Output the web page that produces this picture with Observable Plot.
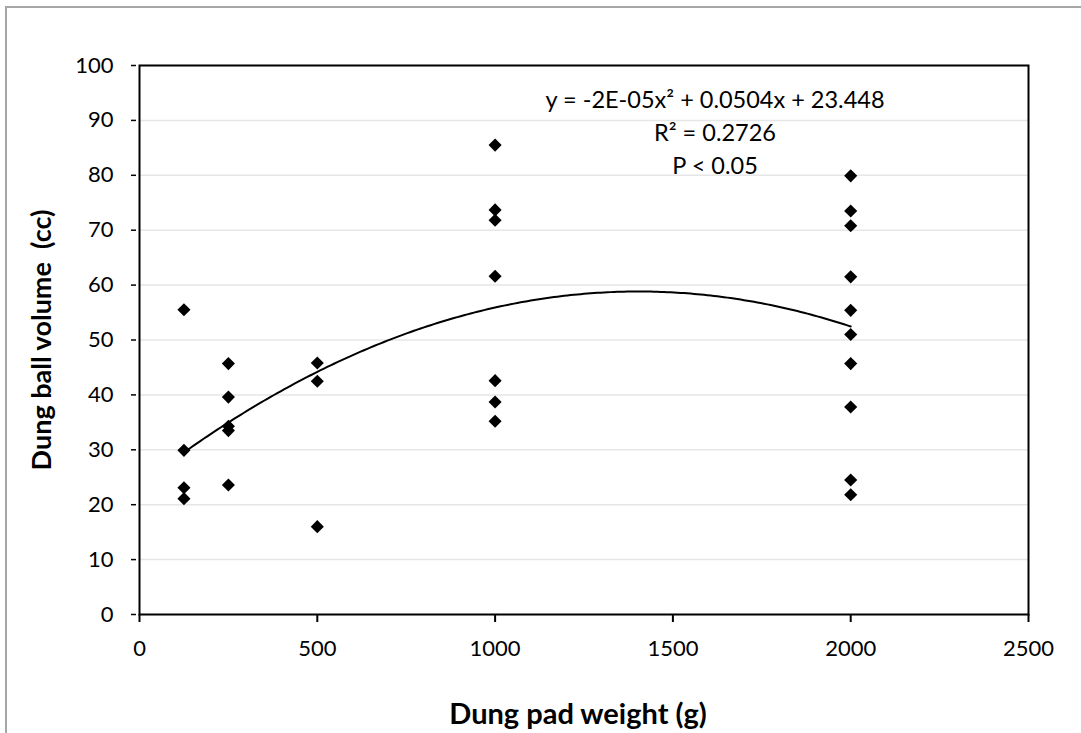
<!DOCTYPE html>
<html>
<head>
<meta charset="utf-8">
<script src="https://cdn.jsdelivr.net/npm/d3@7"></script>
<script src="https://cdn.jsdelivr.net/npm/@observablehq/plot@0.6"></script>
<style>
  html, body { margin: 0; padding: 0; overflow: hidden; background: #fff; }
  #box { position: absolute; left: 5px; top: 6px; width: 1100px; height: 760px; border: 2px solid #a6a6a6; box-sizing: border-box; }
  #chart { position: absolute; left: 0; top: 0; }
</style>
</head>
<body>
<div id="box"></div>
<div id="chart"></div>
<script>
// Data
const padWeights = [125, 250, 500, 1000, 2000];
const ballVolumes = [
  [55.5, 29.9, 23.1, 21.1],
  [45.7, 39.6, 34.3, 33.5, 23.6],
  [45.8, 42.5, 16.0],
  [85.5, 73.7, 71.8, 61.6, 42.6, 38.7, 35.2],
  [79.9, 73.5, 70.8, 61.5, 55.4, 51.0, 45.7, 37.8, 24.5, 21.8]
];
const xTicks = [0, 500, 1000, 1500, 2000, 2500];
const yTicks = [0, 10, 20, 30, 40, 50, 60, 70, 80, 90, 100];
const equationText = "y = -2E-05x² + 0.0504x + 23.448\nR² = 0.2726\nP < 0.05";
const xLabel = "Dung pad weight (g)";
const yLabel = "Dung ball volume \u00a0(cc)";

const points = padWeights.flatMap((w, i) => ballVolumes[i].map(v => ({weight: w, volume: v})));

// Quadratic least-squares fit (polynomial trendline, order 2)
function quadFit(pts) {
  const s = 1000; // scale x for numeric stability
  const S = [0,0,0,0,0], T = [0,0,0];
  for (const p of pts) {
    const x = p.weight / s;
    for (let k = 0; k < 5; k++) S[k] += x ** k;
    for (let k = 0; k < 3; k++) T[k] += (x ** k) * p.volume;
  }
  const A = [[S[0],S[1],S[2],T[0]],[S[1],S[2],S[3],T[1]],[S[2],S[3],S[4],T[2]]];
  for (let i = 0; i < 3; i++) {
    for (let j = i + 1; j < 3; j++) {
      const f = A[j][i] / A[i][i];
      for (let k = i; k < 4; k++) A[j][k] -= f * A[i][k];
    }
  }
  const c = [0,0,0];
  for (let i = 2; i >= 0; i--) {
    let sum = A[i][3];
    for (let k = i + 1; k < 3; k++) sum -= A[i][k] * c[k];
    c[i] = sum / A[i][i];
  }
  return x => c[0] + c[1] * (x / s) + c[2] * (x / s) ** 2;
}
const fit = quadFit(points);
const xMin = d3.min(padWeights), xMax = d3.max(padWeights);
const curve = d3.range(0, 201).map(i => {
  const x = xMin + (xMax - xMin) * i / 200;
  return {weight: x, volume: fit(x)};
});

const chart = Plot.plot({
  width: 1081,
  height: 733,
  marginLeft: 139,
  marginRight: 53,
  marginTop: 65,
  marginBottom: 119,
  style: {fontFamily: "Lato, 'Open Sans', sans-serif", fontSize: "22px", color: "#000", background: "transparent"},
  x: {domain: [0, 2500]},
  y: {domain: [0, 100]},
  marks: [
    Plot.gridY(yTicks, {stroke: "#e6e6e6", strokeOpacity: 1, strokeWidth: 1.5}),
    Plot.frame({stroke: "#000", strokeWidth: 2}),
    Plot.axisX(xTicks, {tickSize: 8, tickPadding: 18, tickFormat: "d", label: null, fontSize: 22, strokeWidth: 2}),
    Plot.axisY(yTicks, {tickSize: 5, dx: -3, tickPadding: 18, tickFormat: "d", label: null, fontSize: 22, strokeWidth: 1.5}),
    Plot.line(curve, {x: "weight", y: "volume", stroke: "#000", strokeWidth: 2}),
    Plot.dot(points, {x: "weight", y: "volume", symbol: "diamond2", r: 5.9, fill: "#000", stroke: null}),
    Plot.text([equationText], {frameAnchor: "top", dx: 131, dy: 65, lineAnchor: "middle", lineHeight: 1.4, fontSize: 23.5, fill: "#000"}),
    Plot.text([xLabel], {frameAnchor: "bottom", dx: -6, dy: 100, textAnchor: "middle", lineAnchor: "middle", fontSize: 29, fontWeight: "bold", fill: "#000"}),
    Plot.text([yLabel], {frameAnchor: "left", dx: -97, rotate: -90, textAnchor: "middle", lineAnchor: "middle", fontSize: 27, fontWeight: "bold", fill: "#000"})
  ]
});
document.getElementById("chart").appendChild(chart);
</script>
</body>
</html>
